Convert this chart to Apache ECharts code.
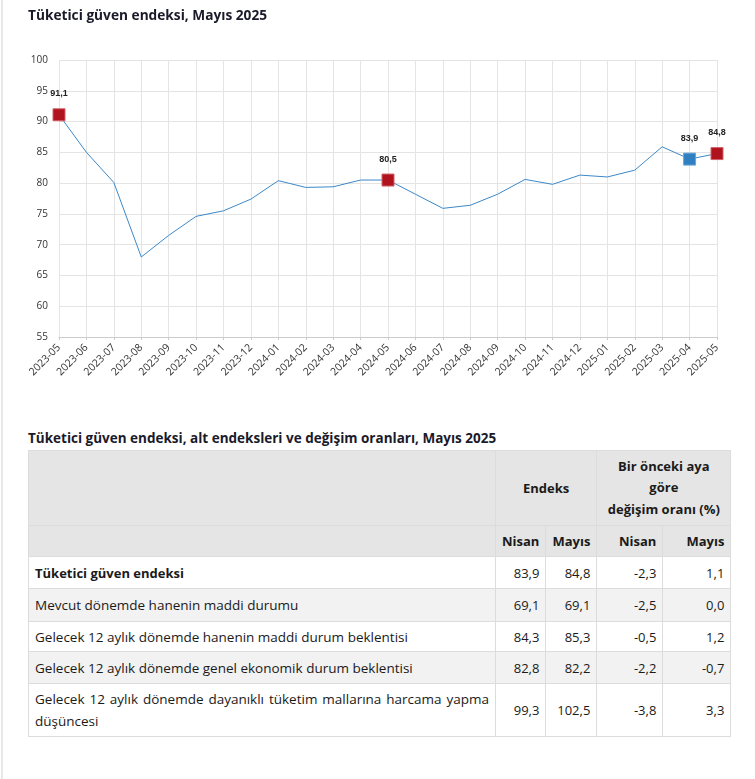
<!DOCTYPE html>
<html>
<head>
<meta charset="utf-8">
<script src="https://cdn.jsdelivr.net/npm/echarts@6/dist/echarts.min.js"></script>
<style>
  body { margin: 0; background: #fff; font-family: "Open Sans", "Noto Sans", sans-serif; color: #1a1a1a; }
  .page { position: relative; width: 755px; height: 779px; overflow: hidden; }
  .edge { position: absolute; left: 1px; top: 0; width: 2px; height: 779px; background: #e8e8e8; }
  #chart { position: absolute; left: 0; top: 0; width: 755px; height: 420px; }
  .table-title { position: absolute; left: 28px; top: 429px; font-size: 13.5px; font-weight: bold; color: #1a1a2a; }
  table { position: absolute; left: 28px; top: 450px; border-collapse: collapse; font-size: 13.5px; table-layout: fixed; }
  td, th { border: 1px solid #dcdcdc; padding: 0 6px; box-sizing: border-box; }
  th { background: #e5e5e5; font-weight: bold; font-size: 13px; }
  td.num { text-align: right; font-size: 13px; }
  td.lbl { text-align: justify; line-height: 22px; }
  tr.alt td { background: #f2f2f2; }
  tr.bold td.lbl { font-weight: bold; font-size: 13px; }
</style>
</head>
<body>
<div class="page">
  <div class="edge"></div>
  <div id="chart"></div>
  <div class="table-title">Tüketici güven endeksi, alt endeksleri ve değişim oranları, Mayıs 2025</div>
  <table id="tbl"></table>
</div>
<script>
const months = ['2023-05', '2023-06', '2023-07', '2023-08', '2023-09', '2023-10', '2023-11', '2023-12',
  '2024-01', '2024-02', '2024-03', '2024-04', '2024-05', '2024-06', '2024-07', '2024-08', '2024-09',
  '2024-10', '2024-11', '2024-12', '2025-01', '2025-02', '2025-03', '2025-04', '2025-05'];
const indexValues = [91.1, 85.0, 80.1, 68.0, 71.5, 74.6, 75.5, 77.4,
  80.4, 79.3, 79.4, 80.5, 80.5, 78.2, 75.9, 76.4, 78.2,
  80.6, 79.8, 81.3, 81.0, 82.1, 85.9, 83.9, 84.8];
const redMonths = ['2023-05', '2024-05', '2025-05'];
const blueMonths = ['2025-04'];

const rowNames = [
  'Tüketici güven endeksi',
  'Mevcut dönemde hanenin maddi durumu',
  'Gelecek 12 aylık dönemde hanenin maddi durum beklentisi',
  'Gelecek 12 aylık dönemde genel ekonomik durum beklentisi',
  'Gelecek 12 aylık dönemde dayanıklı tüketim mallarına harcama yapma düşüncesi'
];
const endeksNisan = [83.9, 69.1, 84.3, 82.8, 99.3];
const endeksMayis = [84.8, 69.1, 85.3, 82.2, 102.5];
const degisimNisan = [-2.3, -2.5, -0.5, -2.2, -3.8];
const degisimMayis = [1.1, 0.0, 1.2, -0.7, 3.3];

const fmt = (v) => v.toFixed(1).replace('.', ',');

// table
const rowHeights = [32, 33, 30, 32, 53];
let html = '<colgroup><col style="width:467px"><col style="width:49px"><col style="width:49px">' +
  '<col style="width:66px"><col style="width:68px"></colgroup>';
html += '<tr style="height:75px"><th></th><th colspan="2" style="text-align:center">Endeks</th>' +
  '<th colspan="2" style="text-align:center;line-height:21.5px">Bir önceki aya<br>göre<br>değişim oranı (%)</th></tr>';
html += '<tr style="height:31px"><th></th><th style="text-align:right">Nisan</th><th style="text-align:right">Mayıs</th>' +
  '<th style="text-align:right">Nisan</th><th style="text-align:right">Mayıs</th></tr>';
rowNames.forEach((name, i) => {
  const cls = (i === 0 ? 'bold' : '') + (i % 2 === 1 ? ' alt' : '');
  html += `<tr class="${cls}" style="height:${rowHeights[i]}px"><td class="lbl">${name}</td>` +
    `<td class="num">${fmt(endeksNisan[i])}</td><td class="num">${fmt(endeksMayis[i])}</td>` +
    `<td class="num">${fmt(degisimNisan[i])}</td><td class="num">${fmt(degisimMayis[i])}</td></tr>`;
});
document.getElementById('tbl').innerHTML = html;

// chart
const myChart = echarts.init(document.getElementById('chart'));

const seriesData = indexValues.map((value, i) => {
  const m = months[i];
  const isRed = redMonths.includes(m);
  const isBlue = blueMonths.includes(m);
  if (!isRed && !isBlue) {
    return { value: value, symbol: 'none' };
  }
  return {
    value: value,
    symbol: 'rect',
    symbolSize: 12,
    itemStyle: {
      color: isRed ? '#b0131d' : '#2f7fc1',
      borderColor: isRed ? '#d0626a' : '#6aa6d8',
      borderWidth: 1,
    },
    label: { show: true },
  };
});

const option = {
  animation: false,
  title: {
    text: 'Tüketici güven endeksi, Mayıs 2025',
    left: 28,
    top: 9,
    padding: 0,
    textStyle: {
      fontFamily: 'Open Sans',
      fontSize: 13.7,
      fontWeight: 'bold',
      color: '#1a1a2a',
    },
  },
  grid: {
    left: 59,
    right: 38,
    top: 60,
    height: 277,
  },
  xAxis: {
    type: 'category',
    boundaryGap: false,
    data: months,
    axisLine: { lineStyle: { color: '#cccccc' } },
    axisTick: { show: true, length: 3, lineStyle: { color: '#cccccc' } },
    axisLabel: {
      rotate: 45,
      interval: 0,
      margin: 9,
      fontFamily: 'Open Sans',
      fontSize: 10.5,
      color: '#333',
    },
    splitLine: { show: true, lineStyle: { color: '#e4e4e4' } },
  },
  yAxis: {
    type: 'value',
    min: 55,
    max: 100,
    interval: 5,
    axisLine: { show: false },
    axisTick: { show: false },
    axisLabel: {
      margin: 11,
      fontFamily: 'Open Sans',
      fontSize: 10,
      color: '#333',
    },
    splitLine: { show: true, lineStyle: { color: '#e4e4e4' } },
  },
  series: [{
    type: 'line',
    data: seriesData,
    symbol: 'none',
    showSymbol: true,
    lineStyle: { color: '#3b88c9', width: 1 },
    itemStyle: { color: '#3b88c9' },
    label: {
      show: false,
      position: 'top',
      distance: 10,
      fontFamily: 'Liberation Sans',
      fontSize: 9,
      fontWeight: 'bold',
      color: '#222',
      formatter: (p) => fmt(p.value),
    },
    z: 3,
  }],
};

myChart.setOption(option);
</script>
</body>
</html>
